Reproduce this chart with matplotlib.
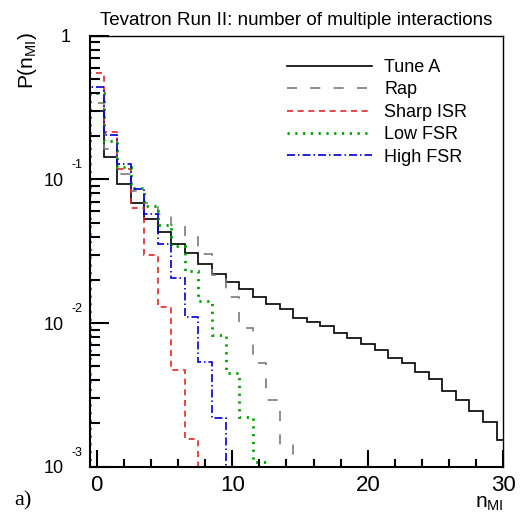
import matplotlib
matplotlib.use("Agg")
import matplotlib.pyplot as plt
import matplotlib.transforms as mtransforms
import numpy as np
from matplotlib.ticker import FixedLocator, NullFormatter

plt.rcParams['font.family'] = ['Liberation Sans', 'DejaVu Sans']
plt.rcParams['mathtext.fontset'] = 'custom'
plt.rcParams['mathtext.rm'] = 'Liberation Sans'
plt.rcParams['mathtext.it'] = 'Liberation Sans'

# P(n_MI) per bin, bins centred on integers n = 0, 1, 2, ...
tune_a = [0.299, 0.144, 0.0925, 0.0682, 0.0530, 0.0428, 0.0355, 0.0306, 0.0259,
          0.0220, 0.0194, 0.0172, 0.0151, 0.0135, 0.0125, 0.0109, 0.0101, 0.00950,
          0.00857, 0.00791, 0.00719, 0.00650, 0.00574, 0.00530, 0.00459, 0.00406,
          0.00339, 0.00292, 0.00243, 0.00204, 0.00153]
rap = [0.339, 0.162, 0.109, 0.0830, 0.0685, 0.0570, 0.0482, 0.0397, 0.0303,
       0.0216, 0.0153, 0.00929, 0.00530, 0.00290, 0.00142]
sharp_isr = [0.548, 0.215, 0.1175, 0.0629, 0.0300, 0.0129, 0.00472, 0.00155]
low_fsr = [0.397, 0.185, 0.122, 0.0867, 0.0658, 0.0484, 0.0343, 0.0232, 0.0143,
           0.00826, 0.00452, 0.00221, 0.00107]
high_fsr = [0.438, 0.204, 0.128, 0.0857, 0.0570, 0.0357, 0.0207, 0.0111,
            0.00539, 0.00218]

labels = ["Tune A", "Rap", "Sharp ISR", "Low FSR", "High FSR"]
x_ticks = [0, 10, 20, 30]
y_ticks = [1e-3, 1e-2, 1e-1, 1]
y_tick_exponents = ["-3", "-2", "-1", None]

fig = plt.figure(figsize=(5.2, 5.14), dpi=100)
ax = fig.add_axes([0.173, 0.092, 0.795, 0.8385])

series = [tune_a, rap, sharp_isr, low_fsr, high_fsr]
styles = [
    dict(color="black", lw=1.2, linestyle="-"),
    dict(color="#7a7a7a", lw=1.2, linestyle=(0, (6, 8))),
    dict(color="#e02828", lw=1.2, linestyle=(0, (3.6, 2.8))),
    dict(color="#00a000", lw=2.0, linestyle=(0, (0.8, 2.0))),
    dict(color="#0000cc", lw=1.2, linestyle=(0, (4.8, 1.8, 0.9, 1.8))),
]
handles = []
for vals, st, lab in zip(series, styles, labels):
    vals = np.asarray(vals)
    edges = np.arange(len(vals) + 1) - 0.5
    ax.stairs(vals, edges, baseline=1e-6, **st)
    h, = ax.plot([], [], label=lab, **st)
    handles.append(h)

ax.set_yscale("log")
ax.set_xlim(-0.5, 30)
ax.set_ylim(1e-3, 1)

ax.xaxis.set_major_locator(FixedLocator(x_ticks))
ax.xaxis.set_minor_locator(FixedLocator(np.arange(0, 31, 2)))
ax.yaxis.set_major_locator(FixedLocator(y_ticks))
ax.yaxis.set_major_formatter(NullFormatter())
minor_y = [m * 10.0 ** e for e in (-3, -2, -1) for m in range(2, 10)]
ax.yaxis.set_minor_locator(FixedLocator(minor_y))
ax.yaxis.set_minor_formatter(NullFormatter())

ax.tick_params(axis="both", which="both", direction="in", top=False, right=False,
               width=1.5)
ax.tick_params(axis="x", labelsize=16)
ax.tick_params(axis="y", which="major", length=14)
ax.tick_params(axis="y", which="minor", length=7)
ax.tick_params(axis="x", which="major", length=12, pad=6)
ax.tick_params(axis="x", which="minor", length=6)
for s in ["left", "bottom"]:
    ax.spines[s].set_linewidth(1.5)
for s in ["top", "right"]:
    ax.spines[s].set_linewidth(1.0)

# ROOT-style y tick labels: "10" with a detached, raised exponent
blend = mtransforms.blended_transform_factory(fig.transFigure, ax.transData)
down = mtransforms.ScaledTranslation(0, -2 / 100, fig.dpi_scale_trans)
up = mtransforms.ScaledTranslation(0, 14 / 100, fig.dpi_scale_trans)
for val, ex in zip(y_ticks, y_tick_exponents):
    if ex is None:
        fig.text(0.136, val, "1", fontsize=13, ha="right", va="center",
                 transform=blend + down)
    else:
        fig.text(0.122, val, "10", fontsize=13, ha="right", va="center",
                 transform=blend + down)
        fig.text(0.137, val, ex, fontsize=9, ha="left", va="center",
                 transform=blend + up)

ax.set_title("Tevatron Run II: number of multiple interactions", fontsize=13.5, pad=8)
fig.text(0.052, 0.937, r"P(n$_{\mathrm{MI}}$)", rotation=90, fontsize=15,
         ha="center", va="top")
fig.text(0.968, 0.002, r"n$_{\mathrm{MI}}$", fontsize=15, ha="right", va="bottom")
fig.text(0.028, 0.006, "a)", fontsize=16, family="Liberation Serif", ha="left",
         va="bottom")

ax.legend(handles=handles, loc="upper left", frameon=False, fontsize=13,
          handlelength=4.7, labelspacing=0.3, bbox_to_anchor=(0.476, 0.946),
          handletextpad=0.7, borderpad=0, borderaxespad=0)

fig.savefig("out.png", dpi=100)
